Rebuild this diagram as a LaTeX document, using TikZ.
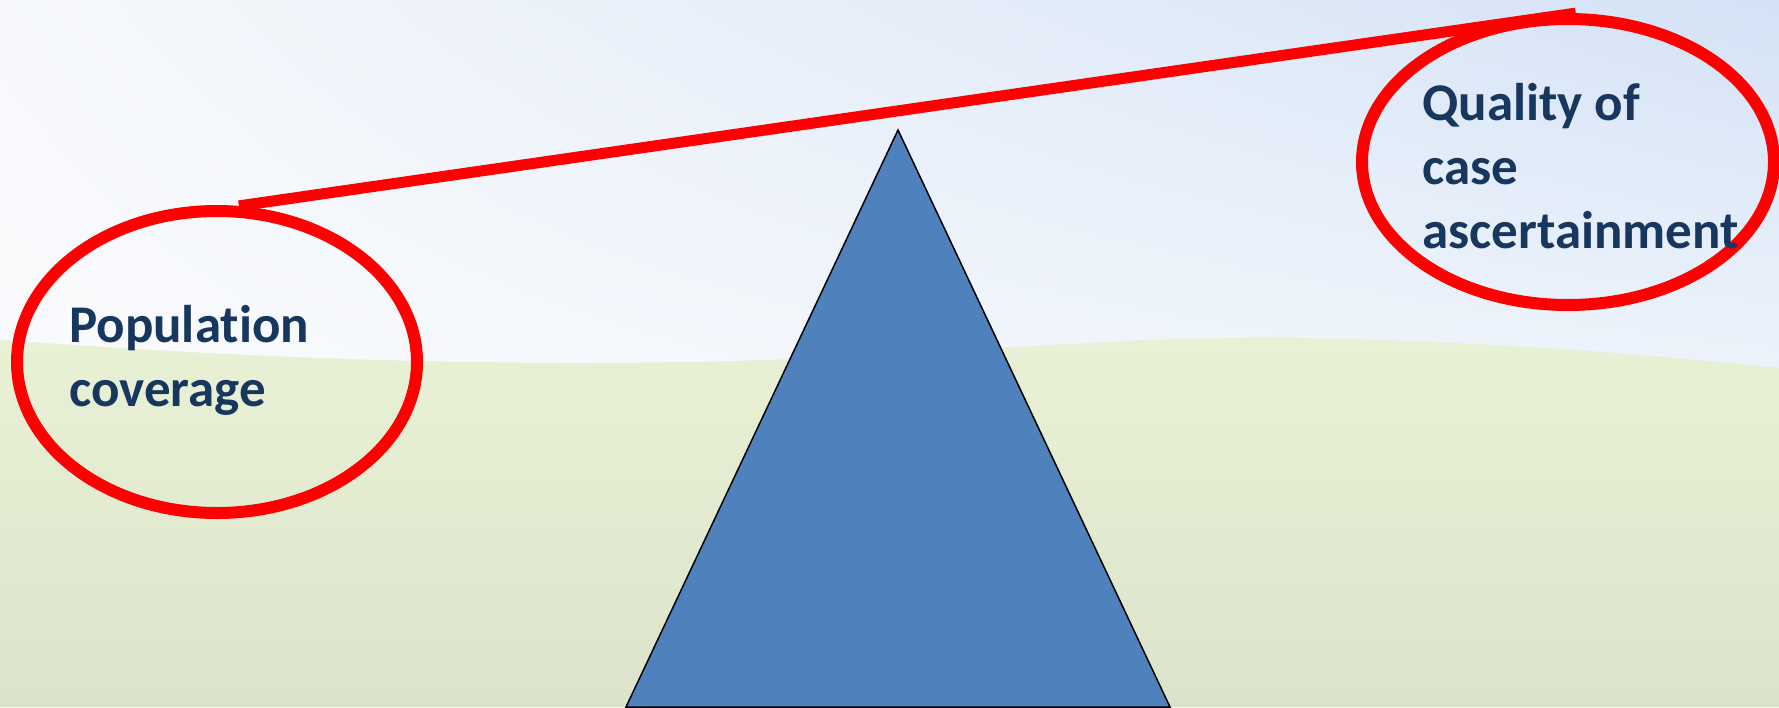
\documentclass[tikz,border=0pt]{standalone}
\usepackage{fontspec}
\setmainfont{Carlito}[Ligatures=NoCommon]
\usepackage{tikz}
\usetikzlibrary{shapes.geometric}
\usetikzlibrary{shadings}

\definecolor{skyul}{RGB}{246,248,251}
\definecolor{skyur}{RGB}{212,226,246}
\definecolor{skyll}{RGB}{250,251,253}
\definecolor{skylr}{RGB}{238,244,251}
\definecolor{grasstop}{RGB}{233,241,213}
\definecolor{grassbot}{RGB}{219,227,204}
\definecolor{navytext}{RGB}{24,55,94}
\definecolor{pivotblue}{RGB}{79,129,189}

\begin{document}
\begin{tikzpicture}[x=1pt,y=-1pt]
\useasboundingbox (0,0) rectangle (1779,707);
\begin{scope}
    \shade[upper left=skyul,upper right=skyur,lower left=skyll,lower right=skylr] (0,0) rectangle (1779,400);
    \path[preaction={fill=grasstop},top color=grasstop,bottom color=grassbot] (0,340)
        .. controls (250,358) and (450,366) .. (700,362)
        .. controls (950,356) and (1100,336) .. (1300,338)
        .. controls (1500,342) and (1650,355) .. (1779,368)
        -- (1779,707) -- (0,707) -- cycle;
\end{scope}
\begin{scope}[pivot/.style={fill=pivotblue,draw=black,line width=1.5pt,line join=miter}]
    \coordinate (apex) at (898,130);
    \coordinate (baseR) at (1170,707);
    \coordinate (baseL) at (626,707);
    \draw[pivot] (apex) -- (baseR) -- (baseL) -- cycle;
\end{scope}
\begin{scope}[every node/.style={ellipse,draw=red,line width=12pt,inner sep=0pt},
              beam/.style={draw=red,line width=11pt}]
    \node[minimum width=400pt,minimum height=302pt] (popring) at (217,362) {};
    \node[minimum width=412pt,minimum height=286pt] (qualring) at (1568,162) {};
    \path (popring.82) edge [beam] (qualring.87);
\end{scope}
\begin{scope}[every node/.style={anchor=north west,inner sep=0pt,align=left,text=navytext,
                                 font=\fontsize{53}{64}\selectfont\bfseries}]
    \node (poptext) at (69,305) {Population\\coverage};
    \node (qualtext) at (1422,83) {Quality of\\case\\ascertainment};
\end{scope}
\end{tikzpicture}
\end{document}
